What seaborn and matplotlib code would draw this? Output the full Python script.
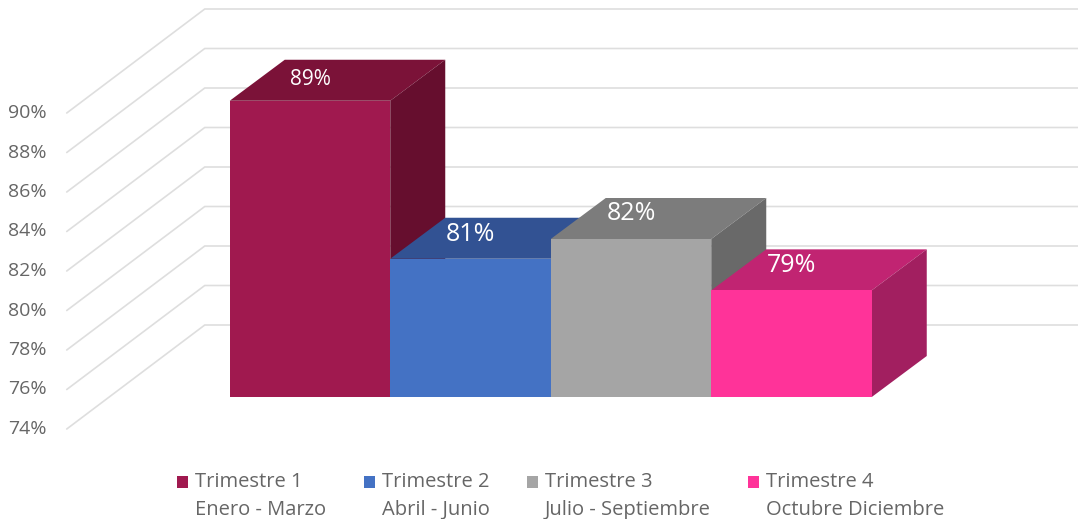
"""Grafica de barras con aspecto 3D por trimestre."""
import matplotlib
matplotlib.use("Agg")
import matplotlib.pyplot as plt
import pandas as pd
import seaborn as sns
from matplotlib.legend_handler import HandlerPatch
from matplotlib.patches import Patch, Polygon, Rectangle

TRIMESTRES = ["Trimestre 1", "Trimestre 2", "Trimestre 3", "Trimestre 4"]
MESES = ["Enero - Marzo", "Abril - Junio", "Julio - Septiembre", "Octubre Diciembre"]
VALORES = [89, 81, 82, 79.4]
ETIQUETAS = ["89%", "81%", "82%", "79%"]
TICKS = [74, 76, 78, 80, 82, 84, 86, 88, 90]

COLOR_FRENTE = ["#A0194F", "#4472C4", "#A5A5A5", "#FF3399"]
COLOR_TAPA = ["#7B1238", "#325293", "#7C7C7C", "#C12472"]
COLOR_LADO = ["#660E2E", "#2A4678", "#696969", "#A21F60"]
TAM_ETIQUETA = [15, 18, 18, 18]
SUBE_ETIQUETA = [21, 24, 25, 25]  # px above the front face

BASE = 74
W, H = 1078, 519
PX_X = 160.5  # px per category
PX_Y = 19.75  # px per percentage point

# depth of the bars and of the walls, in data units
FONDO_X, FONDO_Y = 55 / PX_X, 41 / PX_Y
PARED_DX, PARED_DY = 25 / PX_X, 72 / PX_Y
PARED_ANCHO = 138 / PX_X, 104 / PX_Y
SUBE_CUADRO = 10.4  # legend swatch lift, points


def cuadro_primera_linea(legend, orig_handle, xdescent, ydescent, width, height, fontsize):
    # legend centres the swatch on the two lines, move it up to the first one
    return Rectangle((-xdescent, -ydescent + SUBE_CUADRO), width, height)


sns.set_theme(style="white")
plt.rcParams["font.family"] = ["Open Sans", "DejaVu Sans"]

df = pd.DataFrame({"trimestre": TRIMESTRES, "altura": [v - BASE for v in VALORES]})

fig = plt.figure(figsize=(W / 100, H / 100), dpi=100)
ax = fig.add_axes([0, 0, 1, 1])
sns.barplot(
    data=df, x="trimestre", y="altura", hue="trimestre", palette=COLOR_FRENTE,
    saturation=1, width=1, bottom=BASE, legend=False, ax=ax, zorder=20,
    edgecolor="none", linewidth=0,
)
ax.set_xlim(-310 / PX_X, (W - 310) / PX_X)
ax.set_ylim(BASE - (H - 397) / PX_Y, BASE + 397 / PX_Y)
ax.axis("off")

# walls: back wall lines and their run towards the tick labels
x_fondo = -0.5 - PARED_DX
for t in TICKS:
    y_fondo = t + PARED_DY
    ax.plot(
        [x_fondo - PARED_ANCHO[0], x_fondo, ax.get_xlim()[1]],
        [y_fondo - PARED_ANCHO[1], y_fondo, y_fondo],
        color="#DEDEDE", lw=1.2, zorder=1,
    )
    ax.text(
        x_fondo - PARED_ANCHO[0] - 20 / PX_X, y_fondo - PARED_ANCHO[1], f"{t}%",
        ha="right", va="center", fontsize=14, color="#666666",
    )

# top and side faces, left to right so each bar covers the previous one
for i, v in enumerate(VALORES):
    izq, der = i - 0.5, i + 0.5
    tapa = [(izq, v), (der, v), (der + FONDO_X, v + FONDO_Y), (izq + FONDO_X, v + FONDO_Y)]
    lado = [(der, BASE), (der, v), (der + FONDO_X, v + FONDO_Y), (der + FONDO_X, BASE + FONDO_Y)]
    ax.add_patch(Polygon(tapa, facecolor=COLOR_TAPA[i], edgecolor="none", zorder=5 + i))
    ax.add_patch(Polygon(lado, facecolor=COLOR_LADO[i], edgecolor="none", zorder=5 + i))
    ax.text(
        i, v + SUBE_ETIQUETA[i] / PX_Y, ETIQUETAS[i], ha="center", va="center",
        fontsize=TAM_ETIQUETA[i], color="white", zorder=30,
    )

handles = [Patch(facecolor=c, edgecolor="none") for c in COLOR_FRENTE]
labels = [f"{t}\n{m}" for t, m in zip(TRIMESTRES, MESES)]
leg = ax.legend(
    handles, labels, ncol=4, frameon=False, fontsize=14.5, labelcolor="#666666",
    handlelength=0.55, handleheight=0.55, handletextpad=0.35, columnspacing=1.85,
    loc="lower left", bbox_to_anchor=(177 / W, 1 - 520 / H), borderpad=0, borderaxespad=0,
    handler_map={Patch: HandlerPatch(patch_func=cuadro_primera_linea)},
)
for txt in leg.get_texts():
    txt.set_linespacing(1.53)

fig.savefig("out.png", dpi=100)
